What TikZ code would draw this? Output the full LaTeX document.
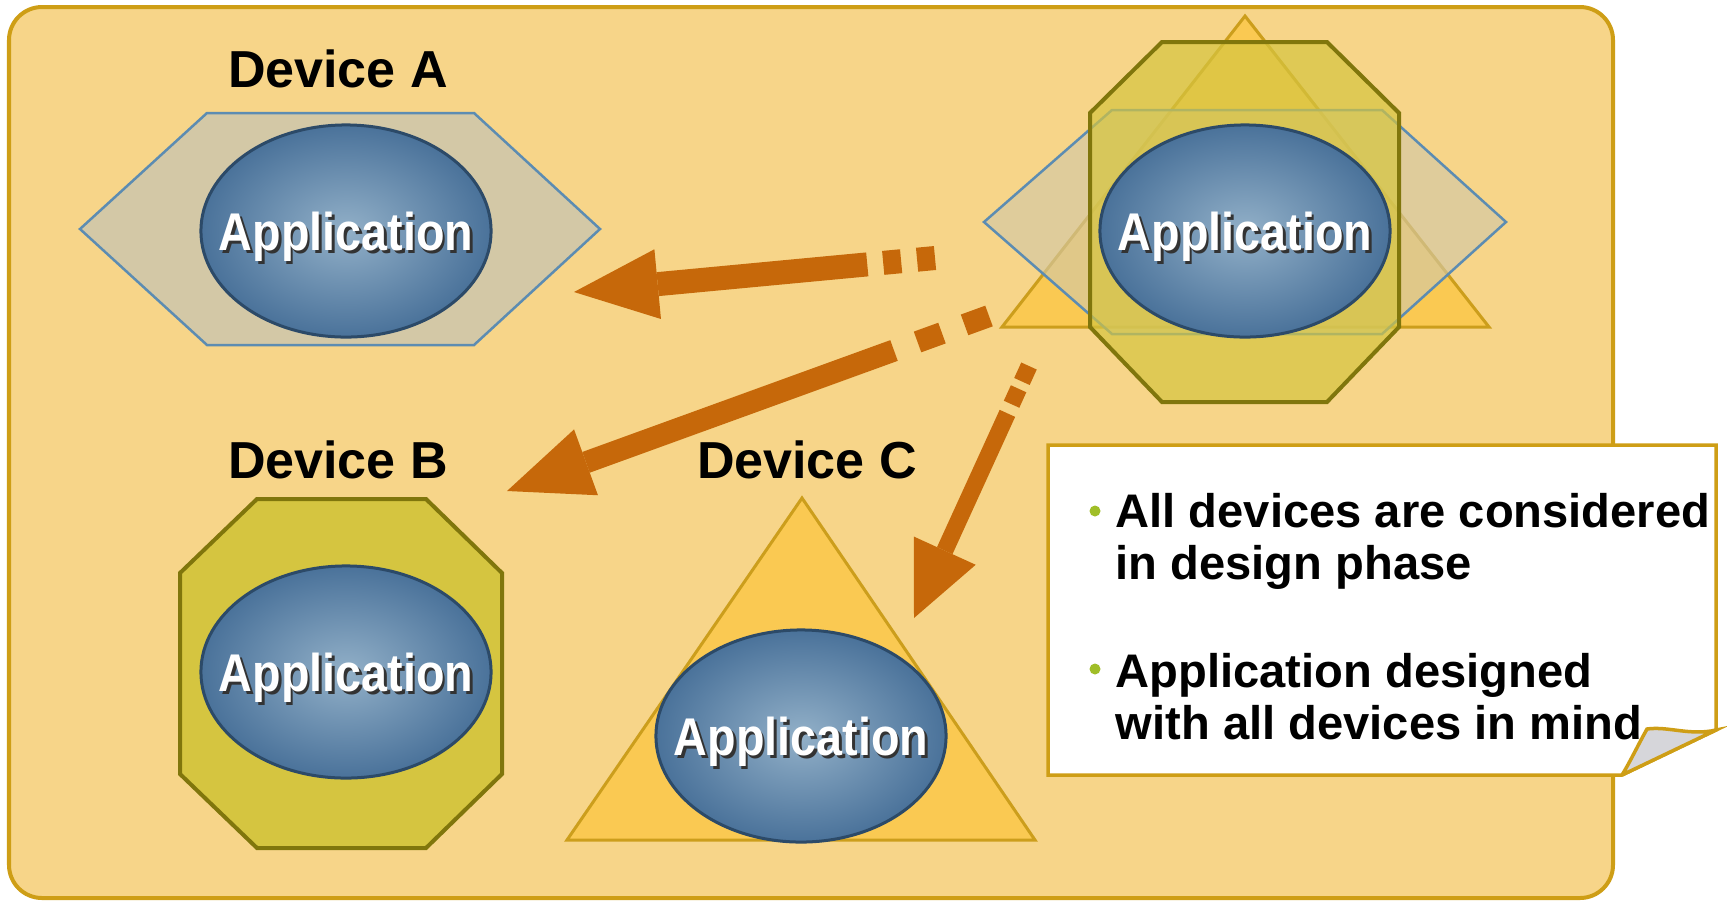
\documentclass[tikz,border=0pt]{standalone}
\usepackage{fontspec}
\setmainfont{Liberation Sans}
\newfontfamily\appfont[FakeStretch=0.88]{Liberation Sans}
\usetikzlibrary{arrows.meta,shapes.geometric}

\definecolor{slidebg}{RGB}{247,213,137}
\definecolor{slideline}{RGB}{206,158,22}
\definecolor{hexfill}{RGB}{211,200,166}
\definecolor{hexline}{RGB}{92,140,178}
\definecolor{octfill}{RGB}{213,197,64}
\definecolor{octline}{RGB}{128,118,12}
\definecolor{trifill}{RGB}{250,201,82}
\definecolor{triline}{RGB}{204,158,28}
\definecolor{appin}{RGB}{146,176,200}
\definecolor{appout}{RGB}{74,114,154}
\definecolor{appline}{RGB}{44,74,104}
\definecolor{flow}{RGB}{198,104,10}
\definecolor{notedot}{RGB}{160,190,40}
\definecolor{foldgrey}{RGB}{214,214,218}

% white label with a dark drop shadow, kept from widening the ellipse
\newcommand{\apptext}[1]{\makebox[0pt][c]{\rlap{\hspace{0.8pt}\raisebox{-0.8pt}{\color{black!80}#1}}#1}}

\tikzset{
  slide/.style={fill=slidebg, draw=slideline, line width=0.04cm, rounded corners=0.33cm},
  app/.style={ellipse, draw=appline, line width=0.03cm, inner color=appin, outer color=appout,
    minimum width=2.9cm, minimum height=2.12cm, inner sep=0pt, text=white, text depth=0pt,
    font=\appfont\bfseries\fontsize{15.1}{18}\selectfont},
  devlabel/.style={font=\bfseries\fontsize{14.8}{18}\selectfont},
  hexdev/.style={fill=hexfill, draw=hexline, line width=0.025cm},
  octdev/.style={fill=octfill, draw=octline, line width=0.04cm},
  tridev/.style={fill=trifill, draw=triline, line width=0.03cm},
  flowarrow/.style={draw=flow, -{Triangle[length=0.84cm,width=0.7cm,line width=0pt]}},
  notebox/.style={fill=white, draw=slideline, line width=0.035cm, line join=miter},
  fold/.style={fill=foldgrey, draw=slideline, line width=0.035cm},
  dot/.style={circle, fill=notedot, inner sep=0pt, minimum size=0.11cm},
  note/.style={anchor=north west, inner sep=0pt, align=left,
    font=\bfseries\fontsize{13.4}{14.65}\selectfont},
}

\begin{document}
\begin{tikzpicture}[x=0.01cm, y=-0.01cm]
    \useasboundingbox (0,0) rectangle (1727,902);
    \draw[slide] (9,7) rectangle (1613,898);

    % the three devices
    \draw[hexdev] (80,229) -- (207,113) -- (474,113) -- (600,229) -- (474,345) -- (207,345) -- cycle;
    \draw[octdev] (257,499) -- (426,499) -- (502,573) -- (502,774) -- (426,848) -- (257,848) -- (180,774) -- (180,573) -- cycle;
    \draw[tridev] (802,498) -- (1035,840) -- (567,840) -- cycle;

    % all devices stacked on top of each other
    \draw[tridev] (1245,16) -- (1489,327) -- (1002,327) -- cycle;
    \draw[hexdev, fill opacity=0.65] (984,222) -- (1112,110) -- (1382,110) -- (1506,222) -- (1382,334) -- (1112,334) -- cycle;
    \draw[octdev, fill opacity=0.7] (1162,42) -- (1327,42) -- (1399,113) -- (1399,327) -- (1327,402) -- (1162,402) -- (1090,327) -- (1090,113) -- cycle;

    \node[app] (appA) at (346,231) {\apptext{Application}};
    \node[app] (appB) at (346,672) {\apptext{Application}};
    \node[app] (appC) at (801,736) {\apptext{Application}};
    \node[app] (appAll) at (1245,231) {\apptext{Application}};

    \node[devlabel] (devA) at (338,69) {Device A};
    \node[devlabel] (devB) at (338,460) {Device B};
    \node[devlabel] (devC) at (807,460) {Device C};

    % deployment arrows
    \coordinate (srcA) at (935,258);
    \coordinate (dstA) at (574,292);
    \coordinate (srcB) at (989,316);
    \coordinate (dstB) at (507,491);
    \coordinate (srcC) at (1029,366);
    \coordinate (dstC) at (914,618);

    \draw[flowarrow, line width=0.24cm, dash pattern=on 0.18cm off 0.16cm on 0.18cm off 0.16cm on 20cm off 1cm] (srcA) -- (dstA);
    \draw[flowarrow, line width=0.22cm, dash pattern=on 0.26cm off 0.24cm on 0.26cm off 0.25cm on 20cm off 1cm] (srcB) -- (dstB);
    \draw[flowarrow, line width=0.17cm, dash pattern=on 0.17cm off 0.08cm on 0.17cm off 0.1cm on 20cm off 1cm,
        -{Triangle[length=0.74cm,width=0.68cm,line width=0pt]}] (srcC) -- (dstC);

    % note with folded corner
    \draw[notebox] (1048,445) -- (1716,445) -- (1716,730) -- (1622,775) -- (1048,775) -- cycle;
    \draw[fold] (1622,775) -- (1716,730) .. controls (1690,736) and (1668,726) .. (1647,729)
        .. controls (1638,745) and (1630,762) .. (1622,775);

    \node[dot] (dot1) at (1095,511) {};
    \node[dot] (dot2) at (1095,669) {};
    \node[note] (item1) at (1115,493) {All devices are considered\\in design phase};
    \node[note] (item2) at (1115,653) {Application designed\\with all devices in mind};
\end{tikzpicture}
\end{document}
